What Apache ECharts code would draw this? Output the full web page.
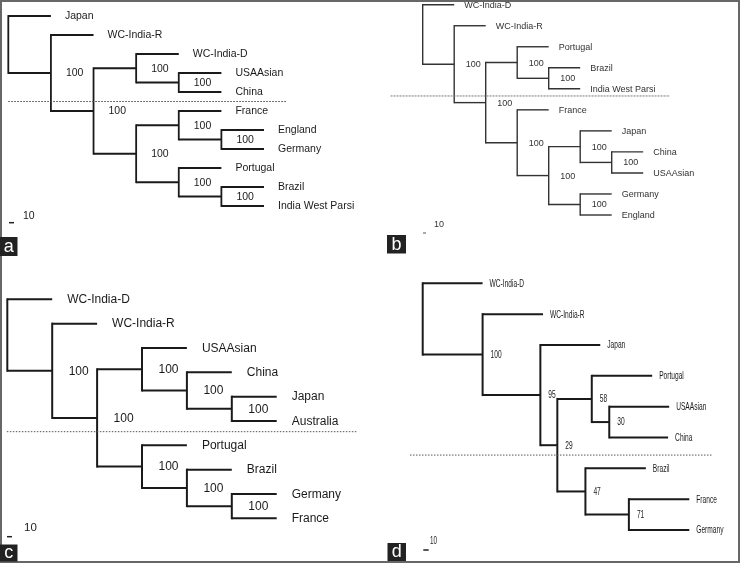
<!DOCTYPE html>
<html><head><meta charset="utf-8">
<script src="https://cdn.jsdelivr.net/npm/echarts@6/dist/echarts.min.js"></script>
<style>html,body{margin:0;padding:0;background:#fff}#c{width:740px;height:563px}</style>
</head><body><div id="c"></div>
<script>
// ---- Data: trees in Newick form (bootstrap support after each clade; branch lengths in panel d) ----
const treeA = "(Japan,(WC-India-R,((WC-India-D,(USAAsian,China)100)100,((France,(England,Germany)100)100,(Portugal,(Brazil,India West Parsi)100)100)100)100)100);";
const treeB = "(WC-India-D,(WC-India-R,((Portugal,(Brazil,India West Parsi)100)100,(France,((Japan,(China,USAAsian)100)100,(Germany,England)100)100)100)100)100);";
const treeC = "(WC-India-D,(WC-India-R,((USAAsian,(China,(Japan,Australia)100)100)100,(Portugal,(Brazil,(Germany,France)100)100)100)100)100);";
const treeD = "(WC-India-D:113,(WC-India-R:114,(Japan:113,((Portugal:114,(USAAsian:113,China:111)30:33)58:65,(Brazil:114,(France:114,Germany:114)71:82)47:53)29:32)95:109)100:113);";
const panelLetters = ["a", "b", "c", "d"];
const scaleLabels = ["10", "10", "10", "10"];

function parseNewick(s) {
  let i = 0;
  function node() {
    const n = { children: [] };
    if (s[i] === '(') {
      i++;
      n.children.push(node());
      while (s[i] === ',') { i++; n.children.push(node()); }
      i++;
    }
    let lab = '';
    while (i < s.length && ',():;'.indexOf(s[i]) < 0) lab += s[i++];
    if (s[i] === ':') {
      i++; let l = '';
      while (i < s.length && ',();'.indexOf(s[i]) < 0) l += s[i++];
      n.len = parseFloat(l);
    }
    if (n.children.length) n.support = lab.trim(); else n.name = lab.trim();
    return n;
  }
  return node();
}

function layoutTree(str, useLen) {
  const root = parseNewick(str);
  const leaves = [], internals = [];
  let k = 0;
  (function walk(n, x) {
    n.x = x;
    if (!n.children.length) { n.y = k++; leaves.push(n); return; }
    n.children.forEach(c => walk(c, useLen ? x + c.len : x + 1));
    n.y = (n.children[0].y + n.children[n.children.length - 1].y) / 2;
    internals.push(n);
  })(root, 0);
  const segs = [];
  internals.forEach(n => {
    const f = n.children[0], l = n.children[n.children.length - 1];
    segs.push([n.x, f.y, n.x, l.y]);
    n.children.forEach(c => segs.push([n.x, c.y, c.x, c.y]));
  });
  const labels = [];
  leaves.forEach(n => labels.push({ v: [n.x, n.y], t: n.name, leaf: true }));
  internals.forEach(n => { if (n.support) labels.push({ v: [n.x, n.y], t: n.support, leaf: false }); });
  return { segs, labels, nLeaves: leaves.length };
}

// ---- Layout / style per panel ----
const panels = [
  { tree: treeA, len: false, left: 8.3, top: 16, width: 255.7, height: 190, xmax: 6,
    font: '10.5px "Liberation Sans", Arial, sans-serif', sx: 1, color: '#1a1a1a', lw: 1.8, leafDx: 14, bsDx: 15, dy: 0.5,
    cut: [0, 4.5, 6.54], cutColor: '#444', cutDash: [1.5, 1.5] },
  { tree: treeB, len: false, left: 422.7, top: 4.7, width: 220.5, height: 210.3, xmax: 7,
    font: '9px "Liberation Sans", Arial, sans-serif', sx: 1, color: '#333', lw: 1.4, leafDx: 10, bsDx: 11.5, dy: 0.5,
    cut: [-1.02, 4.34, 7.85], cutColor: '#777', cutDash: [2, 1] },
  { tree: treeC, len: false, left: 7.3, top: 299.3, width: 269.4, height: 219, xmax: 6,
    font: '12px "Liberation Sans", Arial, sans-serif', sx: 1, color: '#1a1a1a', lw: 2, leafDx: 15, bsDx: 16.5, dy: 0.5,
    cut: [-0.01, 5.44, 7.8], cutColor: '#555', cutDash: [1.5, 1.5] },
  { tree: treeD, len: true, left: 422.7, top: 283.3, width: 266.6, height: 246.7, xmax: 503,
    font: '10.5px "Liberation Sans", Arial, sans-serif', sx: 0.63, color: '#1a1a1a', lw: 2, leafDx: 7, bsDx: 8, dy: 0.5,
    cut: [-24, 5.57, 547], cutColor: '#555', cutDash: [1.5, 1.5] }
];

const grid = [], xAxis = [], yAxis = [], series = [];
panels.forEach((p, idx) => {
  const L = layoutTree(p.tree, p.len);
  grid.push({ left: p.left, top: p.top, width: p.width, height: p.height, containLabel: false });
  xAxis.push({ gridIndex: idx, type: 'value', min: 0, max: p.xmax, show: false });
  yAxis.push({ gridIndex: idx, type: 'value', min: 0, max: L.nLeaves - 1, inverse: true, show: false });
  series.push({
    type: 'custom', xAxisIndex: idx, yAxisIndex: idx, silent: true, animation: false,
    data: L.segs, encode: { x: [0, 2], y: [1, 3] },
    renderItem: (params, api) => {
      const a = api.coord([api.value(0), api.value(1)]);
      const b = api.coord([api.value(2), api.value(3)]);
      const h = a[1] === b[1];
      const ext = h ? 0 : p.lw / 2;
      return { type: 'line', shape: { x1: a[0], y1: a[1] - ext, x2: b[0], y2: b[1] + ext },
        style: { stroke: p.color, lineWidth: p.lw } };
    }
  });
  series.push({
    type: 'custom', xAxisIndex: idx, yAxisIndex: idx, silent: true, animation: false,
    data: [[p.cut[0], p.cut[1], p.cut[2], p.cut[1]]], encode: { x: [0, 2], y: [1, 3] },
    renderItem: (params, api) => {
      const a = api.coord([api.value(0), api.value(1)]);
      const b = api.coord([api.value(2), api.value(3)]);
      return { type: 'line', shape: { x1: a[0], y1: a[1], x2: b[0], y2: b[1] },
        style: { stroke: p.cutColor, lineWidth: 1, lineDash: p.cutDash } };
    }
  });
  series.push({
    type: 'custom', xAxisIndex: idx, yAxisIndex: idx, silent: true, animation: false,
    data: L.labels.map(l => l.v),
    renderItem: (params, api) => {
      const lab = L.labels[params.dataIndex];
      const c = api.coord([api.value(0), api.value(1)]);
      return { type: 'text', x: c[0] + (lab.leaf ? p.leafDx : p.bsDx), y: c[1] + p.dy, scaleX: p.sx, scaleY: 1,
        style: { text: lab.t, fill: p.color, font: p.font, align: 'left', verticalAlign: 'middle' } };
    }
  });
});

// decorations: scale bars, panel letters, frame
const graphic = [
  { type: 'rect', shape: { x: 1, y: 1, width: 738, height: 561 }, style: { fill: 'none', stroke: '#676767', lineWidth: 2 }, z: 10 },
  // scale bars
  { type: 'line', shape: { x1: 9, y1: 222.7, x2: 14, y2: 222.7 }, style: { stroke: '#222', lineWidth: 1.5 } },
  { type: 'text', x: 23, y: 215.7, style: { text: scaleLabels[0], font: '10.5px "Liberation Sans", Arial', fill: '#222', verticalAlign: 'middle' } },
  { type: 'line', shape: { x1: 423, y1: 233, x2: 426, y2: 233 }, style: { stroke: '#555', lineWidth: 1 } },
  { type: 'text', x: 434, y: 225, style: { text: scaleLabels[1], font: '9px "Liberation Sans", Arial', fill: '#333', verticalAlign: 'middle' } },
  { type: 'line', shape: { x1: 7, y1: 536.7, x2: 12, y2: 536.7 }, style: { stroke: '#222', lineWidth: 1.5 } },
  { type: 'text', x: 24, y: 528.3, style: { text: scaleLabels[2], font: '11.5px "Liberation Sans", Arial', fill: '#222', verticalAlign: 'middle' } },
  { type: 'line', shape: { x1: 423.3, y1: 550, x2: 428.7, y2: 550 }, style: { stroke: '#222', lineWidth: 1.5 } },
  { type: 'text', x: 430, y: 541.5, scaleX: 0.63, style: { text: scaleLabels[3], font: '10px "Liberation Sans", Arial', fill: '#222', verticalAlign: 'middle' } }
];
const boxes = [[0, 237, 17.5, 19], [387, 235, 19, 18.5], [0, 544.5, 17.5, 17], [387.5, 543, 18.5, 18]];
boxes.forEach((b, i) => {
  graphic.push({ type: 'rect', shape: { x: b[0], y: b[1], width: b[2], height: b[3] }, style: { fill: '#222' }, z: 11 });
  graphic.push({ type: 'text', x: b[0] + b[2] / 2, y: b[1] + b[3] / 2 + 0.5, z: 12,
    style: { text: panelLetters[i], font: '18px "Liberation Sans", Arial, sans-serif', fill: '#fff', align: 'center', verticalAlign: 'middle' } });
});

const chart = echarts.init(document.getElementById('c'), null, { renderer: 'canvas' });
chart.setOption({ backgroundColor: '#fff', animation: false, grid, xAxis, yAxis, series, graphic });
</script>
</body></html>
